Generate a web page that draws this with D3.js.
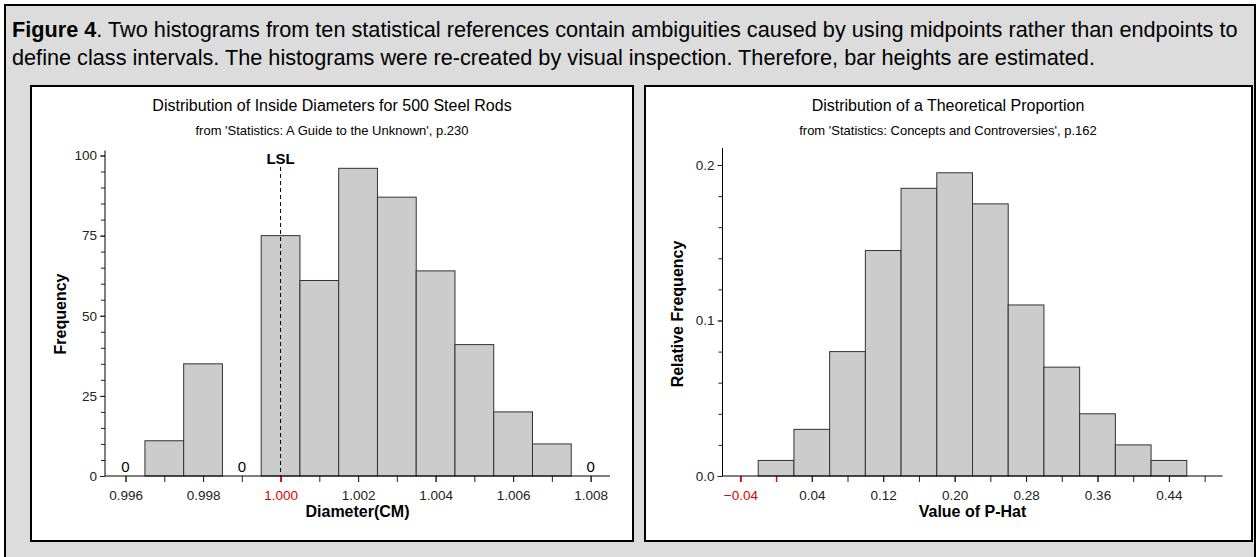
<!DOCTYPE html>
<html>
<head>
<meta charset="utf-8">
<script src="https://cdn.jsdelivr.net/npm/d3@7"></script>
<style>
  body { margin: 0; background: #fff; }
  text { font-family: 'Liberation Sans', Arial, sans-serif; }
</style>
</head>
<body>
<div id="figure"></div>
<script>
/* global d3 */
// left histogram: steel rod diameters (class midpoints, counts)
const rodMidpoints = [0.996, 0.997, 0.998, 0.999, 1.000, 1.001, 1.002, 1.003, 1.004, 1.005, 1.006, 1.007, 1.008]
const rodCounts = [0, 11, 35, 0, 75, 61, 96, 87, 64, 41, 20, 10, 0]
const rodTickLabels = [0.996, 0.998, 1.000, 1.002, 1.004, 1.006, 1.008]
const rodYTicks = [0, 25, 50, 75, 100]
const rodBinWidth = 0.001
const lsl = 1.000

// right histogram: sampling distribution of p-hat
const phatMidpoints = [0.00, 0.04, 0.08, 0.12, 0.16, 0.20, 0.24, 0.28, 0.32, 0.36, 0.40, 0.44]
const phatFreqs = [0.01, 0.03, 0.08, 0.145, 0.185, 0.195, 0.175, 0.11, 0.07, 0.04, 0.02, 0.01]
const phatTickLabels = [-0.04, 0.04, 0.12, 0.20, 0.28, 0.36, 0.44]
const phatYTicks = [0, 0.1, 0.2]
const phatBinWidth = 0.04

const width = 1258
const height = 557
const barFill = '#cccccc'
const barStroke = '#333'
const tickFont = '13.5px'
const red = '#e00000'

const svg = d3.select('#figure')
  .append('svg')
  .attr('width', width)
  .attr('height', height)

// figure frame
svg.append('rect')
  .attr('x', 5).attr('y', 5)
  .attr('width', 1250).attr('height', 570)
  .attr('fill', '#dcdcdc')
  .attr('stroke', '#000')
  .attr('stroke-width', 2)

const caption = svg.append('text')
  .attr('x', 12)
  .attr('y', 37)
  .style('font-size', '21.7px')
caption.append('tspan').style('font-weight', 'bold').text('Figure 4')
caption.append('tspan').text('. Two histograms from ten statistical references contain ambiguities caused by using midpoints rather than endpoints to')
svg.append('text')
  .attr('x', 12)
  .attr('y', 65)
  .style('font-size', '21.7px')
  .text('define class intervals. The histograms were re-created by visual inspection. Therefore, bar heights are estimated.')

function panel (x0, x1) {
  svg.append('rect')
    .attr('x', x0 + 1).attr('y', 87)
    .attr('width', x1 - x0).attr('height', 455)
    .attr('fill', '#555')
  svg.append('rect')
    .attr('x', x0).attr('y', 86)
    .attr('width', x1 - x0).attr('height', 455)
    .attr('fill', '#fff')
    .attr('stroke', '#000')
    .attr('stroke-width', 2)
}

function histogram (opts) {
  const g = svg.append('g')
  const x = d3.scaleLinear().domain(opts.xDomain).range(opts.xRange)
  const y = d3.scaleLinear().domain([0, opts.yMax]).range([476, opts.yTop])

  g.append('text')
    .attr('x', opts.center).attr('y', 111)
    .attr('text-anchor', 'middle')
    .style('font-size', '16px')
    .text(opts.title)
  g.append('text')
    .attr('x', opts.center).attr('y', 135)
    .attr('text-anchor', 'middle')
    .style('font-size', '13px')
    .text(opts.subtitle)

  g.selectAll('rect.bar')
    .data(opts.mids.map((m, i) => ({ m, v: opts.values[i] })).filter(d => d.v > 0))
    .enter()
    .append('rect')
    .attr('class', 'bar')
    .attr('x', d => x(d.m - opts.bin / 2))
    .attr('width', d => x(d.m + opts.bin / 2) - x(d.m - opts.bin / 2))
    .attr('y', d => y(d.v))
    .attr('height', d => y(0) - y(d.v))
    .attr('fill', barFill)
    .attr('stroke', barStroke)
    .attr('stroke-width', 1)

  // y axis
  const yAxis = g.append('g').attr('transform', `translate(${opts.xRange[0]},0)`)
  yAxis.call(d3.axisLeft(y).tickValues(opts.yMinor).tickSize(4).tickFormat(''))
  yAxis.append('g').call(d3.axisLeft(y).tickValues(opts.yTicks).tickSize(5).tickPadding(3).tickFormat(opts.yFormat))
  yAxis.selectAll('.domain').remove()
  yAxis.append('line')
    .attr('y1', y(0)).attr('y2', opts.axisTop)
    .attr('stroke', '#000')

  // x axis
  const xAxis = g.append('g').attr('transform', `translate(0,${y(0)})`)
  xAxis.call(d3.axisBottom(x).tickValues(opts.xMinor).tickSize(6).tickFormat(''))
  xAxis.append('g').call(d3.axisBottom(x).tickValues(opts.xTicks).tickSize(6).tickPadding(8).tickFormat(opts.xFormat))
  xAxis.selectAll('.domain').remove()
  xAxis.append('line')
    .attr('x1', opts.xRange[0]).attr('x2', opts.xRange[1])
    .attr('stroke', '#000')

  g.selectAll('.tick text')
    .attr('font-size', null)
    .style('font-size', tickFont)
    .style('font-family', "'Liberation Sans', Arial, sans-serif")
    .style('fill', '#222')
  g.selectAll('.tick line').style('stroke', '#222')

  // highlight values that should not exist
  xAxis.selectAll('.tick')
    .filter(d => opts.redValues.some(r => Math.abs(r - d) < 1e-9))
    .each(function () {
      d3.select(this).select('line').style('stroke', red).style('stroke-width', 1.5)
      d3.select(this).select('text').style('fill', red)
    })

  g.append('text')
    .attr('transform', `translate(${opts.yLabelX},314) rotate(-90)`)
    .attr('text-anchor', 'middle')
    .style('font-size', '16px')
    .style('font-weight', 'bold')
    .text(opts.yLabel)
  g.append('text')
    .attr('x', (opts.xRange[0] + opts.xRange[1]) / 2)
    .attr('y', 517)
    .attr('text-anchor', 'middle')
    .style('font-size', '16px')
    .style('font-weight', 'bold')
    .text(opts.xLabel)

  return { g, x, y }
}

panel(31, 633)
panel(645, 1252)

const left = histogram({
  title: 'Distribution of Inside Diameters for 500 Steel Rods',
  subtitle: "from 'Statistics: A Guide to the Unknown', p.230",
  center: 332,
  mids: rodMidpoints,
  values: rodCounts,
  bin: rodBinWidth,
  xDomain: [0.99547, 1.0085],
  xRange: [105, 610],
  yMax: 100,
  yTop: 155.5,
  axisTop: 150.5,
  yTicks: rodYTicks,
  yMinor: d3.range(0, 101, 5),
  yFormat: d3.format('d'),
  xTicks: rodTickLabels,
  xMinor: rodMidpoints,
  xFormat: d3.format('.3f'),
  redValues: [lsl],
  yLabel: 'Frequency',
  yLabelX: 66,
  xLabel: 'Diameter(CM)'
})

// empty classes are marked with a 0
left.g.selectAll('text.zero')
  .data(rodMidpoints.filter((m, i) => rodCounts[i] === 0))
  .enter()
  .append('text')
  .attr('class', 'zero')
  .attr('x', d => left.x(d))
  .attr('y', 472)
  .attr('text-anchor', 'middle')
  .style('font-size', '15px')
  .text('0')

left.g.append('line')
  .attr('x1', left.x(lsl)).attr('x2', left.x(lsl))
  .attr('y1', 167).attr('y2', left.y(0))
  .attr('stroke', '#000')
  .attr('stroke-dasharray', '4,3')
left.g.append('text')
  .attr('x', left.x(lsl)).attr('y', 164)
  .attr('text-anchor', 'middle')
  .style('font-size', '15px')
  .style('font-weight', 'bold')
  .text('LSL')

histogram({
  title: 'Distribution of a Theoretical Proportion',
  subtitle: "from 'Statistics: Concepts and Controversies', p.162",
  center: 948,
  mids: phatMidpoints,
  values: phatFreqs,
  bin: phatBinWidth,
  xDomain: [-0.06, 0.5],
  xRange: [722.5, 1222.5],
  yMax: 0.2,
  yTop: 165,
  axisTop: 148,
  yTicks: phatYTicks,
  yMinor: d3.range(0, 11).map(i => i * 0.02),
  yFormat: d3.format('.1f'),
  xTicks: phatTickLabels,
  xMinor: d3.range(0, 14).map(i => -0.04 + i * 0.04),
  xFormat: d3.format('.2f'),
  redValues: [-0.04, 0],
  yLabel: 'Relative Frequency',
  yLabelX: 683,
  xLabel: 'Value of P-Hat'
})
</script>
</body>
</html>
